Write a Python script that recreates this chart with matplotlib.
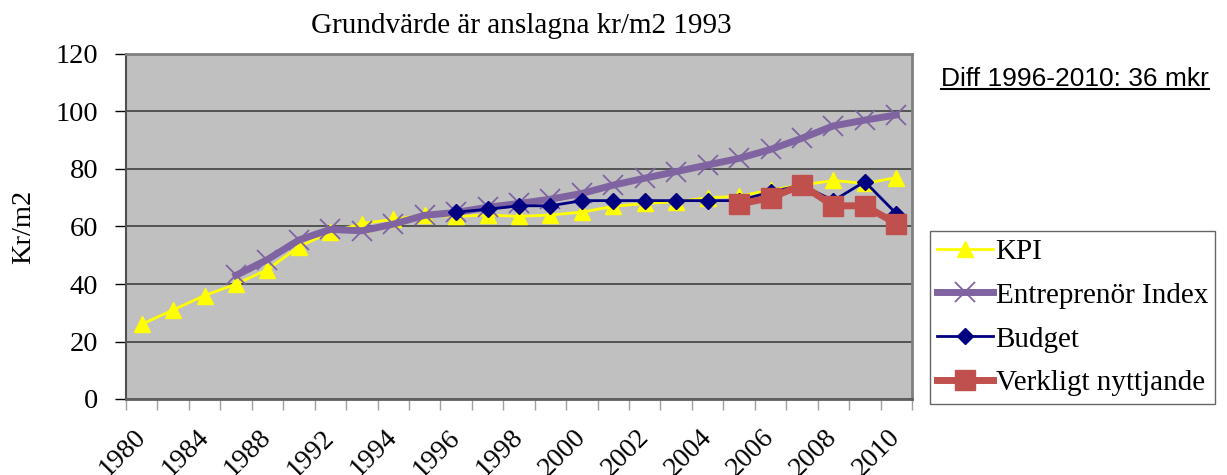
import matplotlib
matplotlib.use("Agg")
import matplotlib.pyplot as plt
import numpy as np
from matplotlib.lines import Line2D

years = ["1980", "1982", "1984", "1986", "1988", "1990", "1992", "1993", "1994",
         "1995", "1996", "1997", "1998", "1999", "2000", "2001", "2002", "2003",
         "2004", "2005", "2006", "2007", "2008", "2009", "2010"]

nan = np.nan
kpi = [26, 31, 36, 40, 45, 53, 58, 61, 62.5, 64, 63.5, 64, 63.5, 64, 65, 67, 68,
       68.6, 70, 70.5, 72.7, 74.4, 76, 75, 77]
entreprenor = [nan, nan, nan, 43, 48.5, 55.3, 59, 58.5, 60.8, 63.9, 64.9, 66.7, 68,
               69.5, 71.5, 74.4, 76.8, 79.1, 81.4, 83.7, 86.8, 90.7, 95, 97, 98.8]
budget = [nan] * 10 + [65, 66, 67.2, 67.2, 69, 69, 69, 69, 69, 69, 72, 74.4, 69, 75.6, 64.5]
verkligt = [nan] * 19 + [67.8, 70, 74.4, 67.2, 67.2, 61]

plt.rcParams['font.family'] = ['Liberation Serif', 'DejaVu Serif']

fig = plt.figure(figsize=(12.27, 4.75), dpi=100)
ax = fig.add_axes([126 / 1227, 1 - 399 / 475, (912 - 126) / 1227, (399 - 54) / 475])
ax.set_facecolor('#C0C0C0')

x = np.arange(len(years))
ax.plot(x, kpi, color='#FFFF00', lw=2, marker='^', ms=11, mec='#FFFF00',
        label='KPI', zorder=3)
ax.plot(x, entreprenor, color='#8064A2', lw=5, marker='x', ms=14, mew=1.3,
        label='Entreprenör Index', zorder=4)
ax.plot(x, budget, color='#000080', lw=2, marker='D', ms=8,
        label='Budget', zorder=5)
ax.plot(x, verkligt, color='#C0504D', lw=5, marker='s', ms=14,
        label='Verkligt nyttjande', zorder=6)

ax.set_xlim(-0.5, len(years) - 0.5)
ax.set_ylim(0, 120)
ax.set_yticks(range(0, 121, 20))
ax.tick_params(axis='y', labelsize=20.5, length=8, color='black', width=1, pad=12)
ax.grid(axis='y', color='#404040', lw=1.2)
ax.set_axisbelow(True)

ax.set_xticks(x[::2])
ax.set_xticklabels(years[::2], rotation=45, ha='right', va='center',
                   rotation_mode='anchor', fontsize=20)
ax.tick_params(axis='x', length=0, pad=25)
ax.set_xticks(np.arange(-0.5, len(years), 1), minor=True)
ax.tick_params(axis='x', which='minor', length=8, color='#A0A0A0', width=1)

for side in ['top', 'right']:
    ax.spines[side].set_color('#808080')
    ax.spines[side].set_linewidth(2)
ax.spines['left'].set_color('#505050')
ax.spines['left'].set_linewidth(1.5)
ax.spines['bottom'].set_color('#606060')
ax.spines['bottom'].set_linewidth(2)

ax.set_ylabel('Kr/m2', fontsize=20.5, labelpad=14)

fig.text(521 / 1227, 1 - 33 / 475, 'Grundvärde är anslagna kr/m2 1993',
         ha='center', va='baseline', fontsize=21)

leg = fig.legend(loc='upper left', bbox_to_anchor=(930 / 1227, 1 - 231 / 475),
                 fontsize=21, frameon=True, fancybox=False, edgecolor='#404040',
                 borderpad=0.25, labelspacing=0.6, handlelength=1.9,
                 handletextpad=0.1, borderaxespad=0)
leg.get_frame().set_linewidth(1)

diff = fig.text(941 / 1227, 1 - 79 / 475, 'Diff 1996-2010: 36 mkr',
                ha='left', va='center', fontsize=19, family='Liberation Sans')
fig.canvas.draw()
bb = diff.get_window_extent().transformed(fig.transFigure.inverted())
fig.add_artist(Line2D([bb.x0, bb.x1], [bb.y0 + 0.004, bb.y0 + 0.004],
                      color='black', lw=1.5, transform=fig.transFigure))

fig.savefig('out.png', dpi=100)
